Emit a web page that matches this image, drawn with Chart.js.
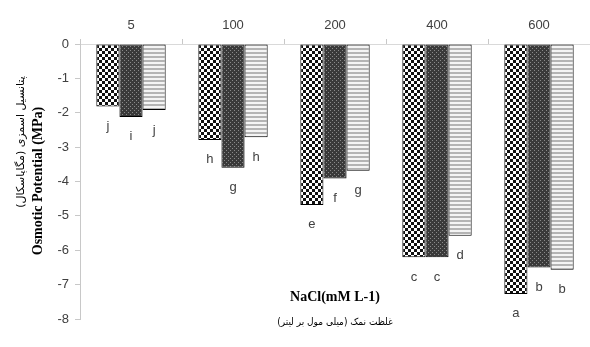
<!DOCTYPE html>
<html>
<head>
<meta charset="utf-8">
<script src="https://cdn.jsdelivr.net/npm/chart.js@4"></script>
<style>
  html, body { margin: 0; padding: 0; background: #fff; }
  #wrap { width: 590px; height: 347px; }
</style>
</head>
<body>
<div id="wrap"><canvas id="chart"></canvas></div>
<script>
// data
const categories = ['5', '100', '200', '400', '600'];
const seriesA = [-1.82, -2.79, -4.68, -6.2, -7.27];
const seriesB = [-2.12, -3.6, -3.91, -6.2, -6.5];
const seriesC = [-1.92, -2.71, -3.69, -5.58, -6.57];
const lettersA = ['j', 'h', 'e', 'c', 'a'];
const lettersB = ['i', 'g', 'f', 'c', 'b'];
const lettersC = ['j', 'h', 'g', 'd', 'b'];
const yTicks = [0, -1, -2, -3, -4, -5, -6, -7, -8];

// fill patterns
function makePattern(size, draw) {
    const c = document.createElement('canvas');
    c.width = size; c.height = size;
    const g = c.getContext('2d');
    draw(g);
    return c.getContext('2d').createPattern(c, 'repeat');
}
const checker = makePattern(6, g => {
    g.fillStyle = '#111'; g.fillRect(0, 0, 6, 6);
    g.fillStyle = '#fff';
    g.fillRect(0, 0, 3, 3); g.fillRect(3, 3, 3, 3);
});
const dotted = makePattern(4, g => {
    g.fillStyle = '#3a3a3a'; g.fillRect(0, 0, 4, 4);
    g.fillStyle = '#8a8a8a';
    g.fillRect(0, 0, 1, 1); g.fillRect(2, 2, 1, 1);
});
const stripes = makePattern(4, g => {
    g.fillStyle = '#f4f4f4'; g.fillRect(0, 0, 4, 4);
    g.fillStyle = '#b4b4b4'; g.fillRect(0, 0, 4, 2);
});

const letters = [lettersA, lettersB, lettersC];

const labelPlugin = {
    id: 'labels',
    afterDatasetsDraw(chart) {
        const ctx = chart.ctx;
        ctx.save();
        ctx.font = '13px "Liberation Sans", Arial, sans-serif';
        ctx.fillStyle = '#404040';
        ctx.textAlign = 'center';
        ctx.textBaseline = 'middle';
        chart.data.datasets.forEach((ds, i) => {
            chart.getDatasetMeta(i).data.forEach((bar, j) => {
                ctx.fillText(letters[i][j], bar.x, bar.y + 20);
            });
        });
        ctx.restore();
    },
    afterDraw(chart) {
        const ctx = chart.ctx;
        const a = chart.chartArea;
        const cx = (a.left + a.right) / 2;
        ctx.save();
        ctx.fillStyle = '#000';
        ctx.textAlign = 'center';
        ctx.textBaseline = 'middle';
        ctx.font = 'bold 14px "Liberation Serif", "Times New Roman", serif';
        ctx.fillText('NaCl(mM L-1)', cx, 297);
        ctx.font = '10px "DejaVu Sans Condensed", "DejaVu Sans", sans-serif';
        ctx.fillText('غلظت نمک (میلی مول بر لیتر)', cx, 322);
        // y titles
        ctx.translate(38, 181);
        ctx.rotate(-Math.PI / 2);
        ctx.font = 'bold 14px "Liberation Serif", "Times New Roman", serif';
        ctx.fillText('Osmotic Potential (MPa)', 0, 0);
        ctx.restore();
        ctx.save();
        ctx.translate(21, 142);
        ctx.rotate(-Math.PI / 2);
        ctx.fillStyle = '#000';
        ctx.textAlign = 'center';
        ctx.textBaseline = 'middle';
        ctx.font = '11px "DejaVu Sans", sans-serif';
        ctx.fillText('پتانسیل اسمزی (مگاپاسکال)', 0, 0);
        ctx.restore();
    }
};

const barStyle = { borderColor: '#000', borderWidth: 1, borderSkipped: false,
                   barPercentage: 1, categoryPercentage: 0.68 };

new Chart(document.getElementById('chart').getContext('2d'), {
    type: 'bar',
    data: {
        labels: categories,
        datasets: [
            Object.assign({ data: seriesA, backgroundColor: checker }, barStyle),
            Object.assign({ data: seriesB, backgroundColor: dotted }, barStyle),
            Object.assign({ data: seriesC, backgroundColor: stripes }, barStyle)
        ]
    },
    options: {
        responsive: true,
        maintainAspectRatio: false,
        animation: false,
        layout: { padding: { left: 0, right: 0, top: 0, bottom: 28 } },
        plugins: { legend: { display: false }, tooltip: { enabled: false } },
        scales: {
            x: {
                position: 'top',
                grid: { drawOnChartArea: false, drawTicks: true, tickLength: 5, color: '#c8c8c8' },
                border: { color: '#d9d9d9', width: 1 },
                ticks: { color: '#404040', font: { size: 13, family: '"Liberation Sans", Arial, sans-serif' }, padding: 6 },
                afterFit(s) { s.height = 44; }
            },
            y: {
                min: -8, max: 0,
                afterBuildTicks(s) { s.ticks = yTicks.map(v => ({ value: v })); },
                grid: { drawOnChartArea: false, drawTicks: true, tickLength: 5, color: '#c8c8c8' },
                border: { color: '#c8c8c8', width: 1 },
                ticks: { color: '#404040', font: { size: 13, family: '"Liberation Sans", Arial, sans-serif' }, padding: 6 },
                afterFit(s) { s.width = 80; }
            }
        }
    },
    plugins: [labelPlugin]
});
</script>
</body>
</html>
